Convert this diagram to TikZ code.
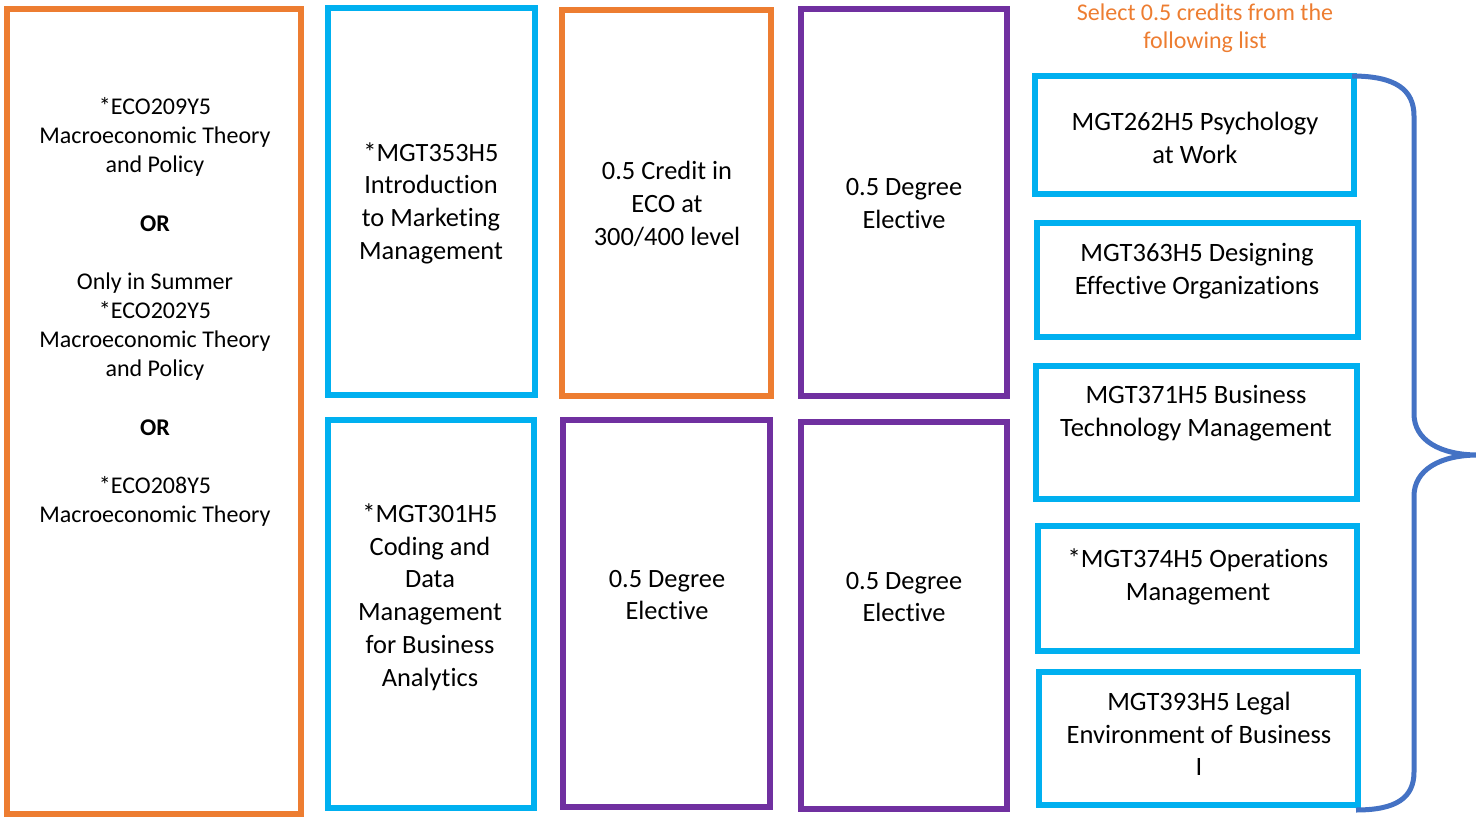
\documentclass[tikz,border=0pt]{standalone}
\usepackage{fontspec}
\setmainfont{Carlito}[Ligatures=NoCommon]
\definecolor{corange}{HTML}{ED7D31}
\definecolor{ccyan}{HTML}{00B0F0}
\definecolor{cpurple}{HTML}{7030A0}
\definecolor{cblue}{HTML}{4472C4}
\begin{document}
\begin{tikzpicture}[x=1pt,y=-1pt,
  box/.style={draw=#1, line width=5.5pt, inner sep=0pt, outer sep=0pt, rectangle},
  lefttxt/.style={align=center, inner sep=0pt, font=\fontsize{24}{29.14}\selectfont},
  midtxt/.style={align=center, inner sep=0pt, font=\fontsize{26.4}{32.7}\selectfont},
  listtxt/.style={align=center, inner sep=0pt, font=\fontsize{26.5}{32.5}\selectfont},
  titletxt/.style={align=center, inner sep=0pt, text=corange, font=\fontsize{24}{28}\selectfont},
  bracestyle/.style={draw=cblue, line width=5pt}]
\useasboundingbox (0,0) rectangle (1476,817);

% boxes
\node[box=corange, minimum width=294pt, minimum height=805pt] (A) at (154,411.5) {};
\node[box=ccyan,   minimum width=207pt, minimum height=387pt] (B) at (431.5,201.5) {};
\node[box=ccyan,   minimum width=206pt, minimum height=388pt] (C) at (431,614) {};
\node[box=corange, minimum width=209pt, minimum height=386pt] (D) at (666.5,203) {};
\node[box=cpurple, minimum width=207pt, minimum height=387pt] (E) at (666.5,613.5) {};
\node[box=cpurple, minimum width=206pt, minimum height=387pt] (F) at (904,202.5) {};
\node[box=cpurple, minimum width=206pt, minimum height=387pt] (G) at (904,615.5) {};
\node[box=ccyan,   minimum width=319pt, minimum height=118pt] (L1) at (1194.5,135) {};
\node[box=ccyan,   minimum width=321pt, minimum height=114pt] (L2) at (1197.5,280) {};
\node[box=ccyan,   minimum width=321pt, minimum height=133pt] (L3) at (1196.5,432.5) {};
\node[box=ccyan,   minimum width=319pt, minimum height=125pt] (L4) at (1197.5,588.5) {};
\node[box=ccyan,   minimum width=319pt, minimum height=133pt] (L5) at (1198.5,738.5) {};

% texts
\node[lefttxt] (tA) at (155,312) {*ECO209Y5\\Macroeconomic Theory\\and Policy\\[29.14pt]\textbf{OR}\\[29.14pt]Only in Summer\\*ECO202Y5\\Macroeconomic Theory\\and Policy\\[29.14pt]\textbf{OR}\\[29.14pt]*ECO208Y5\\Macroeconomic Theory};
\node[midtxt] (tB) at (431,203) {*MGT353H5\\Introduction\\to Marketing\\Management};
\node[midtxt] (tC) at (430,597) {*MGT301H5\\Coding and\\Data\\Management\\for Business\\Analytics};
\node[midtxt] (tD) at (667,204) {0.5 Credit in\\ECO at\\300/400 level};
\node[midtxt] (tE) at (667,595) {0.5 Degree\\Elective};
\node[midtxt] (tF) at (904,203.5) {0.5 Degree\\Elective};
\node[midtxt] (tG) at (904,597) {0.5 Degree\\Elective};
\node[listtxt] (t1) at (1195,138) {MGT262H5 Psychology\\at Work};
\node[listtxt] (t2) at (1197,271) {MGT363H5 Designing\\Effective Organizations};
\node[listtxt] (t3) at (1196,413) {MGT371H5 Business\\Technology Management};
\node[listtxt] (t4) at (1198,577) {*MGT374H5 Operations\\Management};
\node[listtxt] (t5) at (1199,734) {MGT393H5 Legal\\Environment of Business\\I};
\node[titletxt] (title) at (1205,28) {Select 0.5 credits from the\\following list};

% brace
\coordinate (bs) at (1352,76);
\coordinate (bt) at (1478,455);
\coordinate (be) at (1356,810);
\draw[bracestyle] (bs) .. controls (1396,76) and (1414,90) .. (1414,116)
  -- (1414,414) .. controls (1414,440) and (1440,455) .. (bt)
  .. controls (1440,455) and (1414,470) .. (1414,496)
  -- (1414,772) .. controls (1414,798) and (1396,810) .. (be);
\end{tikzpicture}
\end{document}
